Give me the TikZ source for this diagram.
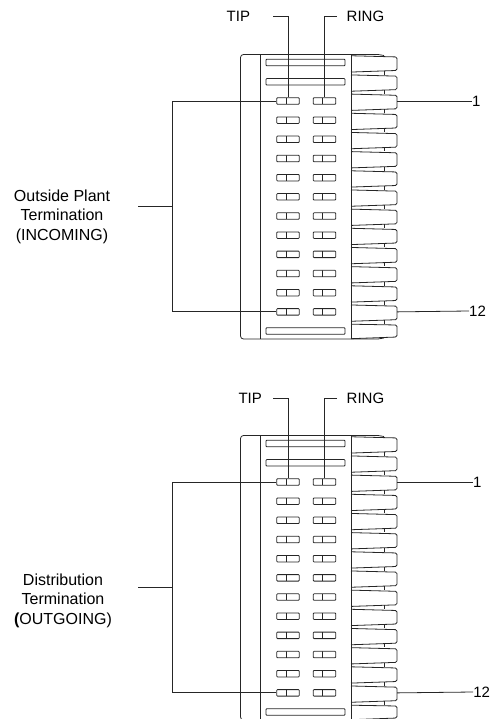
\documentclass[tikz,border=0pt]{standalone}
\usepackage{fontspec}
\setmainfont{Liberation Sans}
\usetikzlibrary{positioning}

\tikzset{
  wire/.style={draw=black!85,line width=.8pt},
  bar node/.style={draw=black!85,line width=.8pt,rounded corners=.8pt,inner sep=0pt,
    minimum width=79pt,minimum height=6.5pt},
  pair node/.style={draw=black!85,line width=.8pt,rounded corners=.8pt,inner sep=0pt,
    minimum width=22.5pt,minimum height=6.5pt,
    path picture={\draw[black!85,line width=.8pt]
      ([xshift=-2pt]path picture bounding box.north) -- ([xshift=-2pt]path picture bounding box.south);}},
  tag node/.style={inner sep=0pt,font=\fontsize{15}{15}\selectfont},
  note node/.style={inner sep=0pt,align=center,font=\fontsize{16}{19.5}\selectfont}
}

% one terminal block, #1 = name prefix
\newcommand{\termblock}[1]{
  \draw[wire,rounded corners=3pt] (351,54.5) -- (240.5,54.5) -- (240.5,339) -- (351,339);
  \draw[wire] (260,54.5) -- (260,339);
  \draw[wire] (351,54.5) -- (351,339);
  \draw[wire] (351,54.5) -- (378,54.5) -- (384,55.5);
  \draw[wire] (351,339) -- (378,339) -- (384,338);
  \node[bar node] (#1bar1) at (305.5,62.5) {};
  \node[bar node] (#1bar2) at (305.5,81.8) {};
  \node[bar node] (#1bar3) at (305.5,331) {};
  \foreach \i in {1,...,12} {
    \pgfmathsetmacro{\yy}{101+(\i-1)*19.17}
    \node[pair node] (#1tip\i) at (288,\yy) {};
    \node[pair node] (#1ring\i) at (324.5,\yy) {};
  }
  \foreach \i in {-1,...,12} {
    \pgfmathsetmacro{\yy}{101+(\i-1)*19.17}
    \coordinate (#1pin\i) at (397,\yy);
    \draw[wire,rounded corners=1.5pt] (351,\yy-6.9) -- (397,\yy-5.7) -- (397,\yy+7.8) -- (351,\yy+9.4);
    \draw[wire] (384,\yy+8.3) -- (384,\yy+12);
  }
  \draw[wire,rounded corners=1.5pt] (351,324.2) -- (397,325) -- (397,337) -- (351,338.7);
}

\begin{document}
\begin{tikzpicture}[x=1pt,y=-1pt]
  \useasboundingbox (0,0) rectangle (490,719);

  % incoming block
  \termblock{a}
  \node[tag node,anchor=west] (atip) at (226.5,16) {TIP};
  \node[tag node,anchor=west] (aring) at (346.5,16) {RING};
  \node[tag node,anchor=west] (aone) at (472,101) {1};
  \node[tag node,anchor=west] (atwelve) at (469,311) {12};
  \node[note node] (anote) at (62,216.7) {Outside Plant\\Termination\\(INCOMING)};
  \coordinate (atipend) at (273,16);
  \coordinate (aringend) at (337,16);
  \coordinate (abrk) at (172.5,206.5);
  \coordinate (astub) at (138,206.5);
  \draw[wire] (atipend) -| (atip1.north);
  \draw[wire] (aringend) -| (aring1.north);
  \draw[wire] (atip1.west) -| (abrk) |- (atip12.west);
  \draw[wire] (astub) -- (abrk);
  \draw[wire] (apin1) -- (aone.west);
  \draw[wire] (apin12) -- (atwelve.west);

  % outgoing block
  \begin{scope}[yshift=-381pt]
    \termblock{b}
    \node[tag node,anchor=west] (btip) at (238.3,17.3) {TIP};
    \node[tag node,anchor=west] (bring) at (346.5,17.3) {RING};
    \node[tag node,anchor=west] (bone) at (473,101) {1};
    \node[tag node,anchor=west] (btwelve) at (473.2,311) {12};
    \node[note node] (bnote) at (63,219.7) {Distribution\\Termination\\{\bfseries(}OUTGOING)};
    \coordinate (btipend) at (273,17.3);
    \coordinate (bringend) at (337,17.3);
    \coordinate (bbrk) at (172.5,206.5);
    \coordinate (bstub) at (138,206.5);
    \draw[wire] (btipend) -| (btip1.north);
    \draw[wire] (bringend) -| (bring1.north);
    \draw[wire] (btip1.west) -| (bbrk) |- (btip12.west);
    \draw[wire] (bstub) -- (bbrk);
    \draw[wire] (bpin1) -- (bone.west);
    \draw[wire] (bpin12) -- (btwelve.west);
  \end{scope}
\end{tikzpicture}
\end{document}
